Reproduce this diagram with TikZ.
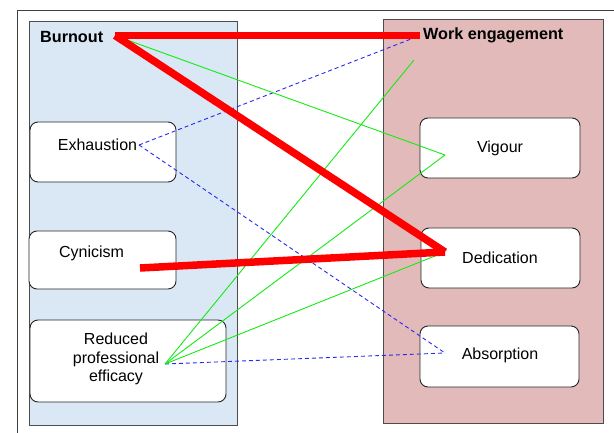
\documentclass[tikz,border=0pt]{standalone}
\usepackage{fontspec}
\setmainfont{Liberation Sans}
\begin{document}
\begin{tikzpicture}[x=1bp,y=-1bp,
  panelL/.style={draw=black!70,line width=1bp,fill=bluepanel},
  panelR/.style={draw=black!70,line width=1bp,fill=pinkpanel},
  box/.style={draw=black!85,line width=0.9bp,fill=white,rounded corners=8bp,inner sep=0pt},
  lbl/.style={font=\fontsize{16bp}{19bp}\selectfont,inner sep=0pt,align=center},
  head/.style={font=\fontsize{16.2bp}{19bp}\selectfont\bfseries,inner sep=0pt},
  strongline/.style={draw=red,line width=7.5bp},
  posline/.style={draw=brightgreen,line width=0.9bp},
  negline/.style={draw=dashblue,line width=0.9bp,dash pattern=on 4bp off 3bp}]
\definecolor{bluepanel}{RGB}{218,231,244}
\definecolor{pinkpanel}{RGB}{227,186,186}
\definecolor{brightgreen}{RGB}{20,235,20}
\definecolor{dashblue}{RGB}{40,40,240}
\useasboundingbox (0,0) rectangle (614,433);
% outer frame
\draw[black!75,line width=1bp] (17,440) -- (17,11) -- (620,11);
% panels
\path[panelL] (29,22) rectangle (237,425);
\path[panelR] (383,20) rectangle (603,423);
% boxes
\node[box,minimum width=146bp,minimum height=60bp] (exhbox) at (103,152) {};
\node[box,minimum width=147bp,minimum height=58bp] (cynbox) at (102.5,260) {};
\node[box,minimum width=196bp,minimum height=82bp] (effbox) at (128,361) {};
\node[box,minimum width=160bp,minimum height=60bp] (vigbox) at (500,148) {};
\node[box,minimum width=159bp,minimum height=60bp] (dedbox) at (500.5,258) {};
\node[box,minimum width=159bp,minimum height=61bp] (absbox) at (499.5,356.5) {};
% labels
\node[head,anchor=west] (burnout) at (40,37) {Burnout};
\node[head,anchor=west] (work) at (423,35) {Work engagement};
\node[lbl] (exh) at (97.5,145) {Exhaustion};
\node[lbl] (cyn) at (91.5,253) {Cynicism};
\node[lbl] (eff) at (116,359) {Reduced\\[-0.5bp]professional\\[-0.5bp]efficacy};
\node[lbl] (vig) at (500,148) {Vigour};
\node[lbl] (ded) at (500,258) {Dedication};
\node[lbl] (abs) at (500,355) {Absorption};
% connector end points
\coordinate (pB) at (115,35.5);
\coordinate (pW) at (420,35.5);
\coordinate (pWg) at (414,60);
\coordinate (pE) at (139,145);
\coordinate (pC) at (140,268);
\coordinate (pR) at (165,364);
\coordinate (pV) at (445,155);
\coordinate (pD) at (445,252);
\coordinate (pA) at (445,353);
% weak negative (dashed)
\draw[negline] (pE) -- (pW);
\draw[negline] (pE) -- (pA);
\draw[negline] (pR) -- (pA);
% positive (green)
\draw[posline] (pB) -- (pV);
\draw[posline] (pR) -- (pWg);
\draw[posline] (pR) -- (pV);
\draw[posline] (pR) -- (pD);
% strong (red)
\draw[strongline] (pB) -- (pW);
\draw[strongline] (pB) -- (pD);
\draw[strongline] (pC) -- (pD);
\end{tikzpicture}
\end{document}
